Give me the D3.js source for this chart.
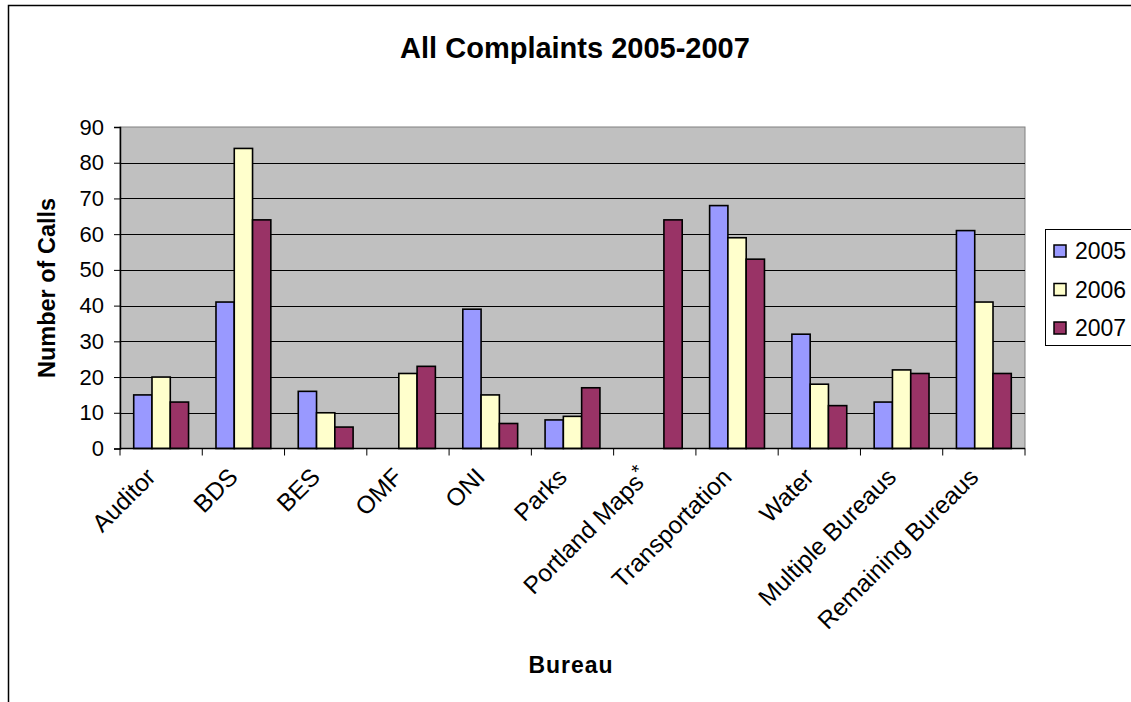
<!DOCTYPE html>
<html>
<head>
<meta charset="utf-8">
<script src="https://cdnjs.cloudflare.com/ajax/libs/d3/7.8.5/d3.min.js"></script>
<style>
    html, body { margin: 0; padding: 0; background: #ffffff; }
    svg { display: block; font-family: "Liberation Sans", Arial, sans-serif; }
</style>
</head>
<body>
<div id="chartContainerId"></div>
<script>

// Chart data

var bureaus = ["Auditor", "BDS", "BES", "OMF", "ONI", "Parks", "Portland Maps*",
               "Transportation", "Water", "Multiple Bureaus", "Remaining Bureaus"];

var years = ["2005", "2006", "2007"];

var calls2005 = [15, 41, 16, 0, 39, 8, 0, 68, 32, 13, 61];
var calls2006 = [20, 84, 10, 21, 15, 9, 0, 59, 18, 22, 41];
var calls2007 = [13, 64, 6, 23, 7, 17, 64, 53, 12, 21, 21];

var yTicks = [0, 10, 20, 30, 40, 50, 60, 70, 80, 90];

var seriesColors = ["#9999FF", "#FFFFCC", "#993366"];


(function() {

    "use strict";

    var full = {w: 1131, h: 702};
    var plot = {left: 120, right: 1025, top: 127, bottom: 448.5};

    var svg = d3.select("#chartContainerId")
        .append("svg")
        .attr("width", full.w)
        .attr("height", full.h);

    // chart area frame (runs off the right and bottom edges)
    svg.append("rect")
        .attr("x", 8.5).attr("y", 5.5)
        .attr("width", 1200).attr("height", 800)
        .attr("fill", "#ffffff")
        .attr("stroke", "#000000")
        .attr("stroke-width", 1.5);

    var xScale = d3.scaleBand()
        .domain(bureaus)
        .range([plot.left, plot.right])
        .paddingInner(0)
        .paddingOuter(0);

    var groupScale = d3.scaleBand()
        .domain(years)
        .range([0, xScale.bandwidth()])
        .paddingOuter(0.75)
        .paddingInner(0);

    var yScale = d3.scaleLinear()
        .domain([0, 90])
        .range([plot.bottom, plot.top]);

    // plot background
    svg.append("rect")
        .attr("x", plot.left).attr("y", plot.top)
        .attr("width", plot.right - plot.left)
        .attr("height", plot.bottom - plot.top)
        .attr("fill", "#C0C0C0")
        .attr("stroke", "#808080")
        .attr("stroke-width", 1);

    // horizontal gridlines
    svg.append("g")
        .selectAll("line")
        .data(yTicks.slice(1, -1))
        .enter()
        .append("line")
          .attr("x1", plot.left).attr("x2", plot.right)
          .attr("y1", function(d) { return Math.round(yScale(d)) + 0.5; })
          .attr("y2", function(d) { return Math.round(yScale(d)) + 0.5; })
          .attr("stroke", "#000000")
          .attr("stroke-width", 1.2);

    // bars
    var rows = bureaus.map(function(b, i) {
        return {bureau: b, values: [calls2005[i], calls2006[i], calls2007[i]]};
    });

    var barsGroup = svg.append("g");

    rows.forEach(function(row) {
        row.values.forEach(function(v, j) {
            if (!v) { return; }
            barsGroup.append("rect")
                .attr("x", xScale(row.bureau) + groupScale(years[j]))
                .attr("y", yScale(v))
                .attr("width", groupScale.bandwidth())
                .attr("height", yScale(0) - yScale(v))
                .attr("fill", seriesColors[j])
                .attr("stroke", "#000000")
                .attr("stroke-width", 1.6);
        });
    });

    // y axis
    var yAxis = d3.axisLeft(yScale).tickValues(yTicks).tickSize(6).tickPadding(10);
    var yAxisG = svg.append("g")
        .attr("transform", "translate(" + plot.left + ",0)")
        .call(yAxis);
    yAxisG.select(".domain").attr("stroke", "#000000").attr("stroke-width", 1.5);
    yAxisG.selectAll(".tick line").attr("stroke", "#000000");
    yAxisG.selectAll(".tick text")
        .attr("font-size", 22)
        .attr("font-family", "Liberation Sans, Arial, sans-serif")
        .attr("fill", "#000000");

    // x axis: tick marks between categories
    var xAxisG = svg.append("g");
    xAxisG.append("line")
        .attr("x1", plot.left).attr("x2", plot.right)
        .attr("y1", plot.bottom).attr("y2", plot.bottom)
        .attr("stroke", "#000000").attr("stroke-width", 1.5);
    xAxisG.selectAll("line.sep")
        .data(bureaus.concat(["end"]))
        .enter()
        .append("line")
          .attr("class", "sep")
          .attr("x1", function(d, i) { return plot.left + i * xScale.step(); })
          .attr("x2", function(d, i) { return plot.left + i * xScale.step(); })
          .attr("y1", plot.bottom).attr("y2", plot.bottom + 7)
          .attr("stroke", "#000000");

    var xLabels = xAxisG.selectAll("text")
        .data(bureaus)
        .enter()
        .append("text")
          .attr("transform", function(d) {
              var cx = xScale(d) + xScale.bandwidth() / 2;
              return "translate(" + (cx - 4) + "," + (plot.bottom + 30) + ") rotate(-45)";
          })
          .attr("text-anchor", "end")
          .attr("font-size", 24.5)
          .attr("fill", "#000000");

    // asterisk is raised in the original
    xLabels.each(function(d) {
        var t = d3.select(this);
        var star = d.indexOf("*");
        if (star < 0) {
            t.text(d);
            return;
        }
        t.append("tspan").text(d.slice(0, star));
        t.append("tspan").attr("dy", -8).attr("font-size", 20).text("*");
    });

    // titles
    svg.append("text")
        .attr("x", 575).attr("y", 58)
        .attr("text-anchor", "middle")
        .attr("font-size", 29)
        .attr("font-weight", "bold")
        .text("All Complaints 2005-2007");

    svg.append("text")
        .attr("transform", "translate(55,288) rotate(-90)")
        .attr("text-anchor", "middle")
        .attr("font-size", 23.5)
        .attr("font-weight", "bold")
        .text("Number of Calls");

    svg.append("text")
        .attr("x", 571).attr("y", 673)
        .attr("text-anchor", "middle")
        .attr("font-size", 23)
        .attr("font-weight", "bold")
        .attr("letter-spacing", 1)
        .text("Bureau");

    // legend
    var legend = svg.append("g");
    legend.append("rect")
        .attr("x", 1045.5).attr("y", 229.5)
        .attr("width", 120).attr("height", 116)
        .attr("fill", "#ffffff")
        .attr("stroke", "#000000")
        .attr("stroke-width", 1);

    var legendItems = legend.selectAll("g.item")
        .data(years)
        .enter()
        .append("g")
          .attr("class", "item")
          .attr("transform", function(d, i) { return "translate(1054," + (251 + i * 38.5) + ")"; });

    legendItems.append("rect")
        .attr("x", 0).attr("y", -6)
        .attr("width", 12).attr("height", 12)
        .attr("fill", function(d, i) { return seriesColors[i]; })
        .attr("stroke", "#000000")
        .attr("stroke-width", 1.5);

    legendItems.append("text")
        .attr("x", 21).attr("y", 8)
        .attr("font-size", 23)
        .attr("fill", "#000000")
        .text(function(d) { return d; });

})();

</script>
</body>
</html>
